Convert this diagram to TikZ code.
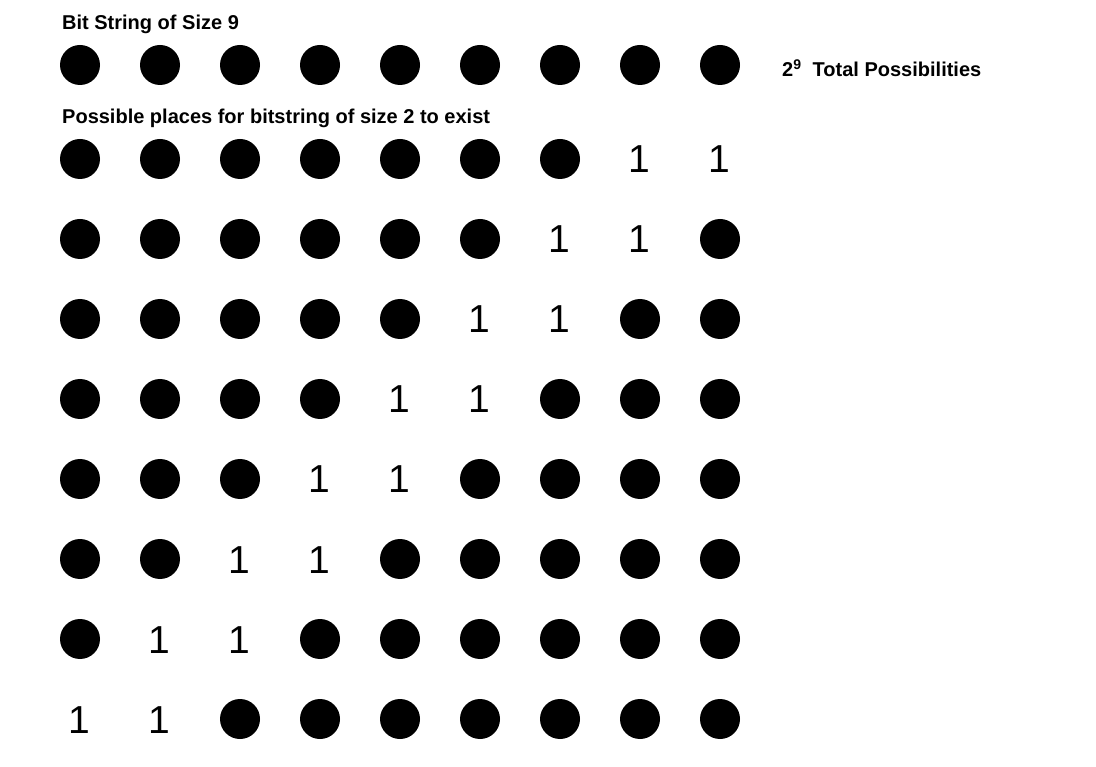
\documentclass[tikz,border=0pt]{standalone}
\usepackage{fontspec}
\setmainfont{Liberation Sans}
\begin{document}
\begin{tikzpicture}[x=1pt,y=-1pt,
  dot/.style={circle,fill=black,minimum size=40pt,inner sep=0pt},
  one/.style={inner sep=0pt,anchor=base,font=\fontsize{39}{39}\selectfont},
  title/.style={inner sep=0pt,anchor=base west,font=\fontsize{20}{20}\selectfont\bfseries}]
\useasboundingbox (0,0) rectangle (1096,767);
\node[title] (t1) at (62,30) {Bit String of Size 9};
\foreach \c in {0,...,8} {
  \node[dot] (top\c) at ({80+80*\c},65) {};
}
\node[title] (tot) at (782,77) {2\textsuperscript{9}\ \ Total Possibilities};
\node[title] (t2) at (62,124) {Possible places for bitstring of size 2 to exist};
\foreach \r in {0,...,7} {
  \pgfmathtruncatemacro{\a}{7-\r}
  \pgfmathtruncatemacro{\b}{8-\r}
  \foreach \c in {0,...,8} {
    \pgfmathtruncatemacro{\isone}{(\c==\a)||(\c==\b)}
    \ifnum\isone=1
      \node[one] (g\r-\c) at ({79+80*\c},{173+80*\r}) {1};
    \else
      \node[dot] (g\r-\c) at ({80+80*\c},{159+80*\r}) {};
    \fi
  }
}
\end{tikzpicture}
\end{document}
